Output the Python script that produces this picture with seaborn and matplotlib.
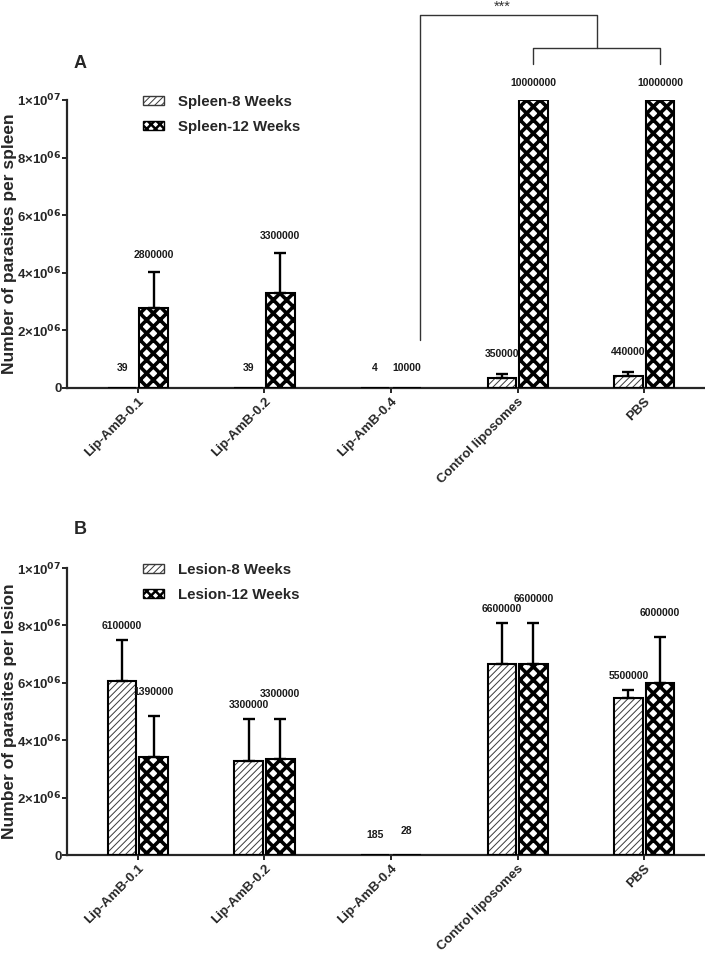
import matplotlib
matplotlib.use("Agg")
import matplotlib.pyplot as plt
from matplotlib.patches import Patch, Rectangle
import numpy as np
import pandas as pd
import seaborn as sns

# data
groups = ["Lip-AmB-0.1", "Lip-AmB-0.2", "Lip-AmB-0.4", "Control liposomes", "PBS"]

spleen_names = ["Spleen-8 Weeks", "Spleen-12 Weeks"]
spleen_8wk = [39, 39, 4, 330000, 400000]
spleen_8wk_err = [0, 0, 0, 150000, 150000]
spleen_12wk = [2780000, 3290000, 10000, 10000000, 10000000]
spleen_12wk_err = [1250000, 1400000, 0, 0, 0]
spleen_lab_8wk = ["39", "39", "4", "350000", "440000"]
spleen_lab_12wk = ["2800000", "3300000", "10000", "10000000", "10000000"]

lesion_names = ["Lesion-8 Weeks", "Lesion-12 Weeks"]
lesion_8wk = [6050000, 3280000, 185, 6640000, 5460000]
lesion_8wk_err = [1440000, 1450000, 0, 1430000, 280000]
lesion_12wk = [3420000, 3330000, 28, 6640000, 5990000]
lesion_12wk_err = [1420000, 1420000, 0, 1430000, 1590000]
lesion_lab_8wk = ["6100000", "3300000", "185", "6600000", "5500000"]
lesion_lab_12wk = ["1390000", "3300000", "28", "6600000", "6000000"]

yticks = [0, 2e6, 4e6, 6e6, 8e6, 1e7]
ytick_labels = ["0", "2×10$^{06}$", "4×10$^{06}$", "6×10$^{06}$", "8×10$^{06}$", "1×10$^{07}$"]

# drawn at 80 dpi so the hatch lattice comes out as fine as in the original;
# S converts "100 dpi" point sizes to this dpi
DPI = 80
S = 100 / DPI

sns.set_style("ticks")
plt.rcParams["font.family"] = ["Liberation Sans", "DejaVu Sans"]
plt.rcParams["mathtext.default"] = "bf"
plt.rcParams["hatch.linewidth"] = 1.0

HATCH_8 = "////"
HATCH_12 = "xx"
HLW_8 = 0.7 * S
HLW_12 = 2.6 * S


def set_hlw(p, lw):
    if hasattr(p, "set_hatch_linewidth"):
        p.set_hatch_linewidth(lw)


def draw_panel(ax, names, v8, e8, v12, e12, lab8, lab12, ylabel, offsets):
    df = pd.DataFrame({
        "group": groups * 2,
        "value": v8 + v12,
        "series": [names[0]] * len(groups) + [names[1]] * len(groups),
    })
    sns.barplot(
        data=df, x="group", y="value", hue="series",
        order=groups, hue_order=names,
        width=0.5, gap=0.1, errorbar=None,
        palette=["white", "white"], edgecolor="black", linewidth=0,
        legend=False, ax=ax,
    )

    styles = [(HATCH_8, "#3a3a3a", HLW_8), (HATCH_12, "black", HLW_12)]
    for cont, (hatch, hcol, hlw), vals, errs, labs, off in zip(
        ax.containers, styles, [v8, v12], [e8, e12], [lab8, lab12], offsets
    ):
        for bar, v, e, lab in zip(cont, vals, errs, labs):
            bar.set_hatch(hatch)
            bar.set_edgecolor(hcol)
            bar.set_facecolor("white")
            set_hlw(bar, hlw)
            ax.add_patch(Rectangle(bar.get_xy(), bar.get_width(), bar.get_height(),
                                   facecolor="none", edgecolor="black",
                                   linewidth=1.5 * S, zorder=3))
            xc = bar.get_x() + bar.get_width() / 2
            if e > 0:
                ax.errorbar(xc, v, yerr=[[0], [e]], fmt="none", ecolor="black",
                            elinewidth=1.7 * S, capsize=4.5 * S, capthick=1.7 * S, zorder=2)
            ax.text(xc, max(v + e + off, 0.7e6), lab, ha="center", va="center",
                    fontsize=7.5 * S, fontweight="bold", color="#1a1a1a")

    ax.set_ylim(0, 1e7)
    ax.set_xlim(-0.56, 4.48)
    ax.set_yticks(yticks)
    ax.set_yticklabels(ytick_labels, fontsize=9.5 * S, fontweight="bold")
    ax.set_xticks(range(len(groups)))
    ax.set_xticklabels(groups, rotation=45, ha="right", rotation_mode="anchor",
                       fontsize=9.5 * S, fontweight="bold")
    ax.set_xlabel("")
    ax.set_ylabel(ylabel, fontsize=12.5 * S, fontweight="bold")
    ax.yaxis.set_label_coords(-0.078, 0.5)
    sns.despine(ax=ax)
    for s in ["left", "bottom"]:
        ax.spines[s].set_linewidth(1.6 * S)
    ax.tick_params(axis="both", width=1.4 * S, length=3.5 * S)
    ax.tick_params(axis="y", pad=0.5)
    ax.tick_params(axis="x", pad=2 * S)

    handles = [
        Patch(facecolor="white", edgecolor="#3a3a3a", hatch=HATCH_8),
        Patch(facecolor="white", edgecolor="black", hatch="xxx"),
    ]
    leg = ax.legend(handles, names, loc="upper left", bbox_to_anchor=(0.098, 1.065),
                    frameon=False, handlelength=1.4, handleheight=0.55, handletextpad=0.9,
                    labelspacing=0.75, prop={"size": 10.8 * S, "weight": "bold"})
    for p, hlw in zip(leg.get_patches(), [HLW_8, 1.8 * S]):
        set_hlw(p, hlw)
        p.set_linewidth(1.0 * S)


fig = plt.figure(figsize=(705 / DPI, 965 / DPI), dpi=DPI)
x0 = 67 / 705
axA = fig.add_axes([x0, 1 - 388 / 965, 1 - x0, 288 / 965])
axB = fig.add_axes([x0, 1 - 855 / 965, 1 - x0, 287 / 965])

draw_panel(axA, spleen_names, spleen_8wk, spleen_8wk_err, spleen_12wk, spleen_12wk_err,
           spleen_lab_8wk, spleen_lab_12wk, "Number of parasites per spleen", (0.7e6, 0.6e6))
draw_panel(axB, lesion_names, lesion_8wk, lesion_8wk_err, lesion_12wk, lesion_12wk_err,
           lesion_lab_8wk, lesion_lab_12wk, "Number of parasites per lesion", (0.5e6, 0.85e6))

# significance bracket on panel A (Lip-AmB-0.4 vs control groups)
bars12 = axA.containers[1]
centers = [b.get_x() + b.get_width() / 2 for b in bars12]
x_left = centers[2] + 0.1
x_c, x_p = centers[3], centers[4]
x_mid = (x_c + x_p) / 2
kw = dict(color="#333333", linewidth=1.0 * S, clip_on=False)
axA.plot([x_left, x_left, x_mid, x_mid], [1.67e6, 12.95e6, 12.95e6, 11.8e6], **kw)
axA.plot([x_c, x_c, x_p, x_p], [11.25e6, 11.8e6, 11.8e6, 11.25e6], **kw)
axA.text((x_left + x_mid) / 2 - 0.05, 13.0e6, "***", ha="center", va="bottom",
         fontsize=10.5 * S, color="#333333", clip_on=False)

fig.text(80 / 705, 1 - 63 / 965, "A", fontsize=13 * S, fontweight="bold", ha="center", va="center")
fig.text(80 / 705, 1 - 530 / 965, "B", fontsize=13 * S, fontweight="bold", ha="center", va="center")

fig.savefig("out.png", dpi=DPI)
